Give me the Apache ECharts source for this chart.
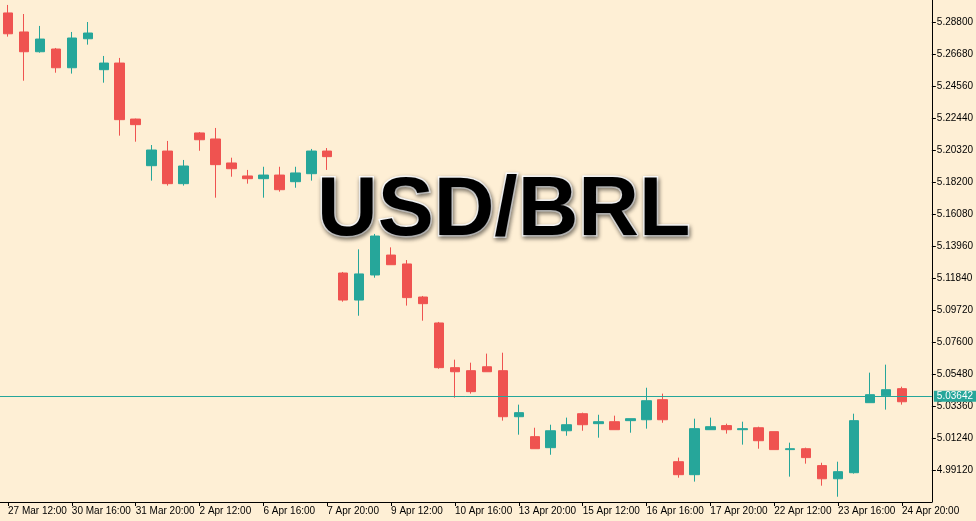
<!DOCTYPE html>
<html>
<head>
<meta charset="utf-8">
<script src="https://cdn.jsdelivr.net/npm/echarts@6/dist/echarts.min.js"></script>
<style>
html,body{margin:0;padding:0;background:#FEEFD5;}
#chart{width:976px;height:521px;}
</style>
</head>
<body>
<div id="chart"></div>
<script>
// H4 candles, index 0 = 27 Mar 12:00 ... 56 = 24 Apr 20:00
const open  = [5.2940,5.2814,5.2683,5.2701,5.2577,5.2769,5.2564,5.2608,5.2237,5.1928,5.2025,5.1809,5.2145,5.2105,5.1946,5.1860,5.1842,5.1866,5.1822,5.1875,5.2025,5.1217,5.1038,5.1204,5.1336,5.1277,5.1058,5.0886,5.0590,5.0570,5.0596,5.0570,5.0265,5.0133,5.0060,5.0172,5.0285,5.0219,5.0232,5.0239,5.0245,5.0378,4.9967,4.9881,5.0179,5.0206,5.0179,5.0192,5.0166,5.0047,5.0053,4.9941,4.9854,4.9894,5.0358,5.0404,5.0451];
const close = [5.2802,5.2683,5.2767,5.2577,5.2774,5.2807,5.2608,5.2233,5.2200,5.2032,5.1809,5.1926,5.2100,5.1935,5.1908,5.1842,5.1866,5.1769,5.1880,5.2025,5.1988,5.1038,5.1211,5.1462,5.1272,5.1054,5.1014,5.0590,5.0563,5.0431,5.0563,5.0265,5.0292,5.0053,5.0172,5.0212,5.0212,5.0232,5.0179,5.0252,5.0371,5.0245,4.9881,5.0186,5.0199,5.0179,5.0186,5.0106,5.0047,5.0053,4.9994,4.9854,4.9901,5.0239,5.0411,5.0444,5.03642];
const low   = [5.2783,5.2491,5.2677,5.2544,5.2538,5.2730,5.2478,5.2127,5.2087,5.1829,5.1796,5.1796,5.2027,5.1716,5.1855,5.1809,5.1716,5.1756,5.1782,5.1829,5.1900,5.1027,5.0934,5.1186,5.1272,5.1001,5.0901,5.0583,5.0391,5.0418,5.0563,5.0239,5.0146,5.0053,5.0013,5.0139,5.0172,5.0126,5.0179,5.0159,5.0186,5.0225,4.9861,4.9835,5.0179,5.0153,5.0080,5.0053,5.0047,4.9868,4.9954,4.9808,4.9735,4.9888,5.0358,5.0312,5.0345];
const high  = [5.2993,5.2933,5.2854,5.2708,5.2814,5.2880,5.2655,5.2642,5.2240,5.2065,5.2092,5.1966,5.2151,5.2178,5.1981,5.1900,5.1921,5.1921,5.1921,5.2039,5.2045,5.1224,5.1374,5.1476,5.1387,5.1303,5.1065,5.0893,5.0643,5.0623,5.0683,5.0689,5.0345,5.0192,5.0212,5.0259,5.0292,5.0278,5.0272,5.0252,5.0457,5.0418,4.9994,5.0252,5.0259,5.0219,5.0232,5.0199,5.0166,5.0093,5.0060,4.9960,4.9967,5.0285,5.0557,5.0610,5.0464];

// x-axis labels, one every 4 candles starting at candle 0
const xTickLabels = ['27 Mar 12:00','30 Mar 16:00','31 Mar 20:00','2 Apr 12:00','6 Apr 16:00','7 Apr 20:00','9 Apr 12:00','10 Apr 16:00','13 Apr 20:00','15 Apr 12:00','16 Apr 16:00','17 Apr 20:00','22 Apr 12:00','23 Apr 16:00','24 Apr 20:00'];
const xTickStep = 4;
// y-axis price labels
const yTickValues = [4.99120,5.01240,5.03360,5.05480,5.07600,5.09720,5.11840,5.13960,5.16080,5.18200,5.20320,5.22440,5.24560,5.26680,5.28800];
const currentPrice = 5.03642;
const symbol = 'USD/BRL';

const UP = '#26A69A', DOWN = '#EF5350';
const FONT = 'Liberation Sans, Arial, sans-serif';

const candleData = open.map((o, i) => [i, o, close[i], low[i], high[i]]);
const xTickPos = xTickLabels.map((_, k) => k * xTickStep);

const chart = echarts.init(document.getElementById('chart'), null, {renderer: 'canvas'});
chart.setOption({
  backgroundColor: '#FEEFD5',
  animation: false,
  title: {
    text: symbol,
    left: 317,
    top: 170,
    padding: 0,
    textStyle: {
      fontFamily: FONT,
      fontSize: 84,
      fontWeight: 'bold',
      color: '#000',
      textBorderColor: '#ffffff',
      textBorderWidth: 3,
      textShadowColor: 'rgba(0,0,0,0.45)',
      textShadowBlur: 4,
      textShadowOffsetX: 1,
      textShadowOffsetY: 2
    }
  },
  grid: {left: 0, right: 42, top: 0, bottom: 19, containLabel: false},
  xAxis: {
    type: 'value',
    min: -0.5,
    max: 57.875,
    axisLine: {show: true, lineStyle: {color: '#000', width: 1}},
    axisTick: {show: true, length: 4, customValues: xTickPos, lineStyle: {color: '#000'}},
    axisLabel: {
      show: true,
      customValues: xTickPos,
      formatter: v => xTickLabels[Math.round(v / xTickStep)] || '',
      align: 'left',
      margin: 4,
      color: '#000',
      fontFamily: FONT,
      fontSize: 10
    },
    splitLine: {show: false}
  },
  yAxis: {
    type: 'value',
    position: 'right',
    min: 4.97,
    max: 5.302575,
    axisLine: {show: true, onZero: false, lineStyle: {color: '#000', width: 1}},
    axisTick: {show: true, length: 4, customValues: yTickValues, lineStyle: {color: '#000'}},
    axisLabel: {
      show: true,
      customValues: yTickValues,
      formatter: v => v.toFixed(5),
      margin: 5,
      color: '#000',
      fontFamily: FONT,
      fontSize: 10
    },
    splitLine: {show: false}
  },
  series: [{
    type: 'candlestick',
    data: candleData,
    encode: {x: 0, y: [1, 2, 3, 4]},
    barWidth: 10,
    itemStyle: {
      color: UP, color0: DOWN,
      borderColor: UP, borderColor0: DOWN,
      borderWidth: 1
    },
    markLine: {
      silent: true,
      symbol: ['none', 'none'],
      lineStyle: {color: UP, width: 1, type: 'solid'},
      label: {
        show: true,
        position: 'end',
        distance: 2,
        formatter: () => currentPrice.toFixed(5),
        color: '#fff',
        backgroundColor: UP,
        lineHeight: 11,
        padding: [0, 4, 0, 3],
        fontFamily: FONT,
        fontSize: 10
      },
      data: [{yAxis: currentPrice}]
    }
  }]
});
</script>
</body>
</html>
